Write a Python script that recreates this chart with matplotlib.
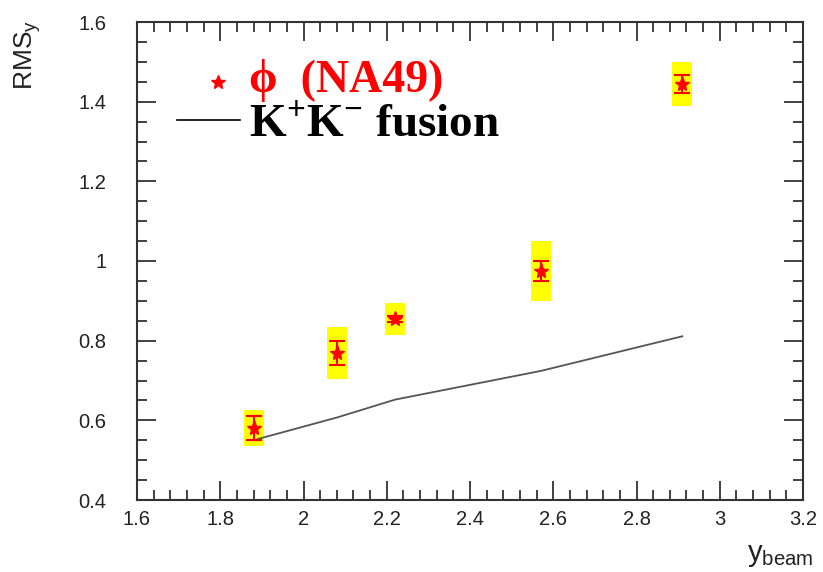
import matplotlib.pyplot as plt
from matplotlib.ticker import MultipleLocator
from matplotlib.lines import Line2D

# phi (NA49): rapidity width vs beam rapidity
y_beam = [1.88, 2.08, 2.22, 2.57, 2.91]
rms = [0.58, 0.77, 0.855, 0.975, 1.445]
err_stat = [0.03, 0.03, 0.008, 0.025, 0.022]
err_sys = [0.045, 0.065, 0.04, 0.075, 0.055]

# K+K- fusion model
fus_x = [1.89, 2.08, 2.22, 2.57, 2.91]
fus_y = [0.553, 0.607, 0.652, 0.724, 0.811]

plt.rcParams['font.family'] = ['Liberation Sans', 'DejaVu Sans']

fig = plt.figure(figsize=(8.23, 5.72), dpi=100)
ax = fig.add_axes([137 / 823, 1 - 500 / 572, 666 / 823, 478 / 572])

ax.bar(y_beam, [2 * e for e in err_sys], bottom=[v - e for v, e in zip(rms, err_sys)],
       width=0.048, color='#ffff00', zorder=1)
ax.errorbar(y_beam, rms, yerr=err_stat, fmt='none', ecolor='red', elinewidth=1.5,
            capsize=6, capthick=1.5, zorder=2)
ax.plot(y_beam, rms, linestyle='none', marker='*', color='red', markersize=11, zorder=3)
ax.plot(fus_x, fus_y, color='#555555', linewidth=1.3, zorder=2)

ax.set_xlim(1.6, 3.2)
ax.set_ylim(0.4, 1.6)
ax.xaxis.set_minor_locator(MultipleLocator(0.04))
ax.yaxis.set_minor_locator(MultipleLocator(0.05))
ax.tick_params(which='both', direction='in', top=True, right=True, width=1.3, color='#333333')
ax.tick_params(which='major', length=14, labelsize=14.5, labelcolor='#222222')
ax.tick_params(which='minor', length=7)
ax.tick_params(axis='x', pad=7)
ax.tick_params(axis='y', pad=22)
for s in ax.spines.values():
    s.set_linewidth(1.5)
    s.set_color('#333333')

xt = [1.6, 1.8, 2.0, 2.2, 2.4, 2.6, 2.8, 3.0, 3.2]
ax.set_xticks(xt)
ax.set_xticklabels(['1.6', '1.8', '2', '2.2', '2.4', '2.6', '2.8', '3', '3.2'])
yt = [0.4, 0.6, 0.8, 1.0, 1.2, 1.4, 1.6]
ax.set_yticks(yt)
ax.set_yticklabels(['0.4', '0.6', '0.8', '1', '1.2', '1.4', '1.6'])

fig.text(0.033, 0.965, r'RMS$_\mathregular{y}$', rotation=90, ha='center', va='top',
         fontsize=19, color='#222222')
fig.text(0.988, 0.005, r'y$_\mathregular{beam}$', ha='right', va='bottom', fontsize=21,
         color='#222222')

# legend drawn by hand in axes fraction
serif = ['Liberation Serif', 'DejaVu Serif']
ax.add_line(Line2D([0.122], [0.875], transform=ax.transAxes, marker='*', color='red',
                   markersize=10, linestyle='none'))
ax.text(0.168, 0.878, '\u03d5  (NA49)', transform=ax.transAxes, color='red', fontsize=33,
        fontweight='bold', family=serif, va='center')
ax.add_line(Line2D([0.06, 0.155], [0.795, 0.795], transform=ax.transAxes, color='black',
                   linewidth=1.2))
ax.text(0.168, 0.783, r'K$^\mathregular{+}$K$^\mathregular{-}$ fusion', transform=ax.transAxes,
        color='black', fontsize=34, fontweight='bold', family=serif, va='center')

fig.savefig('out.png', dpi=100)
